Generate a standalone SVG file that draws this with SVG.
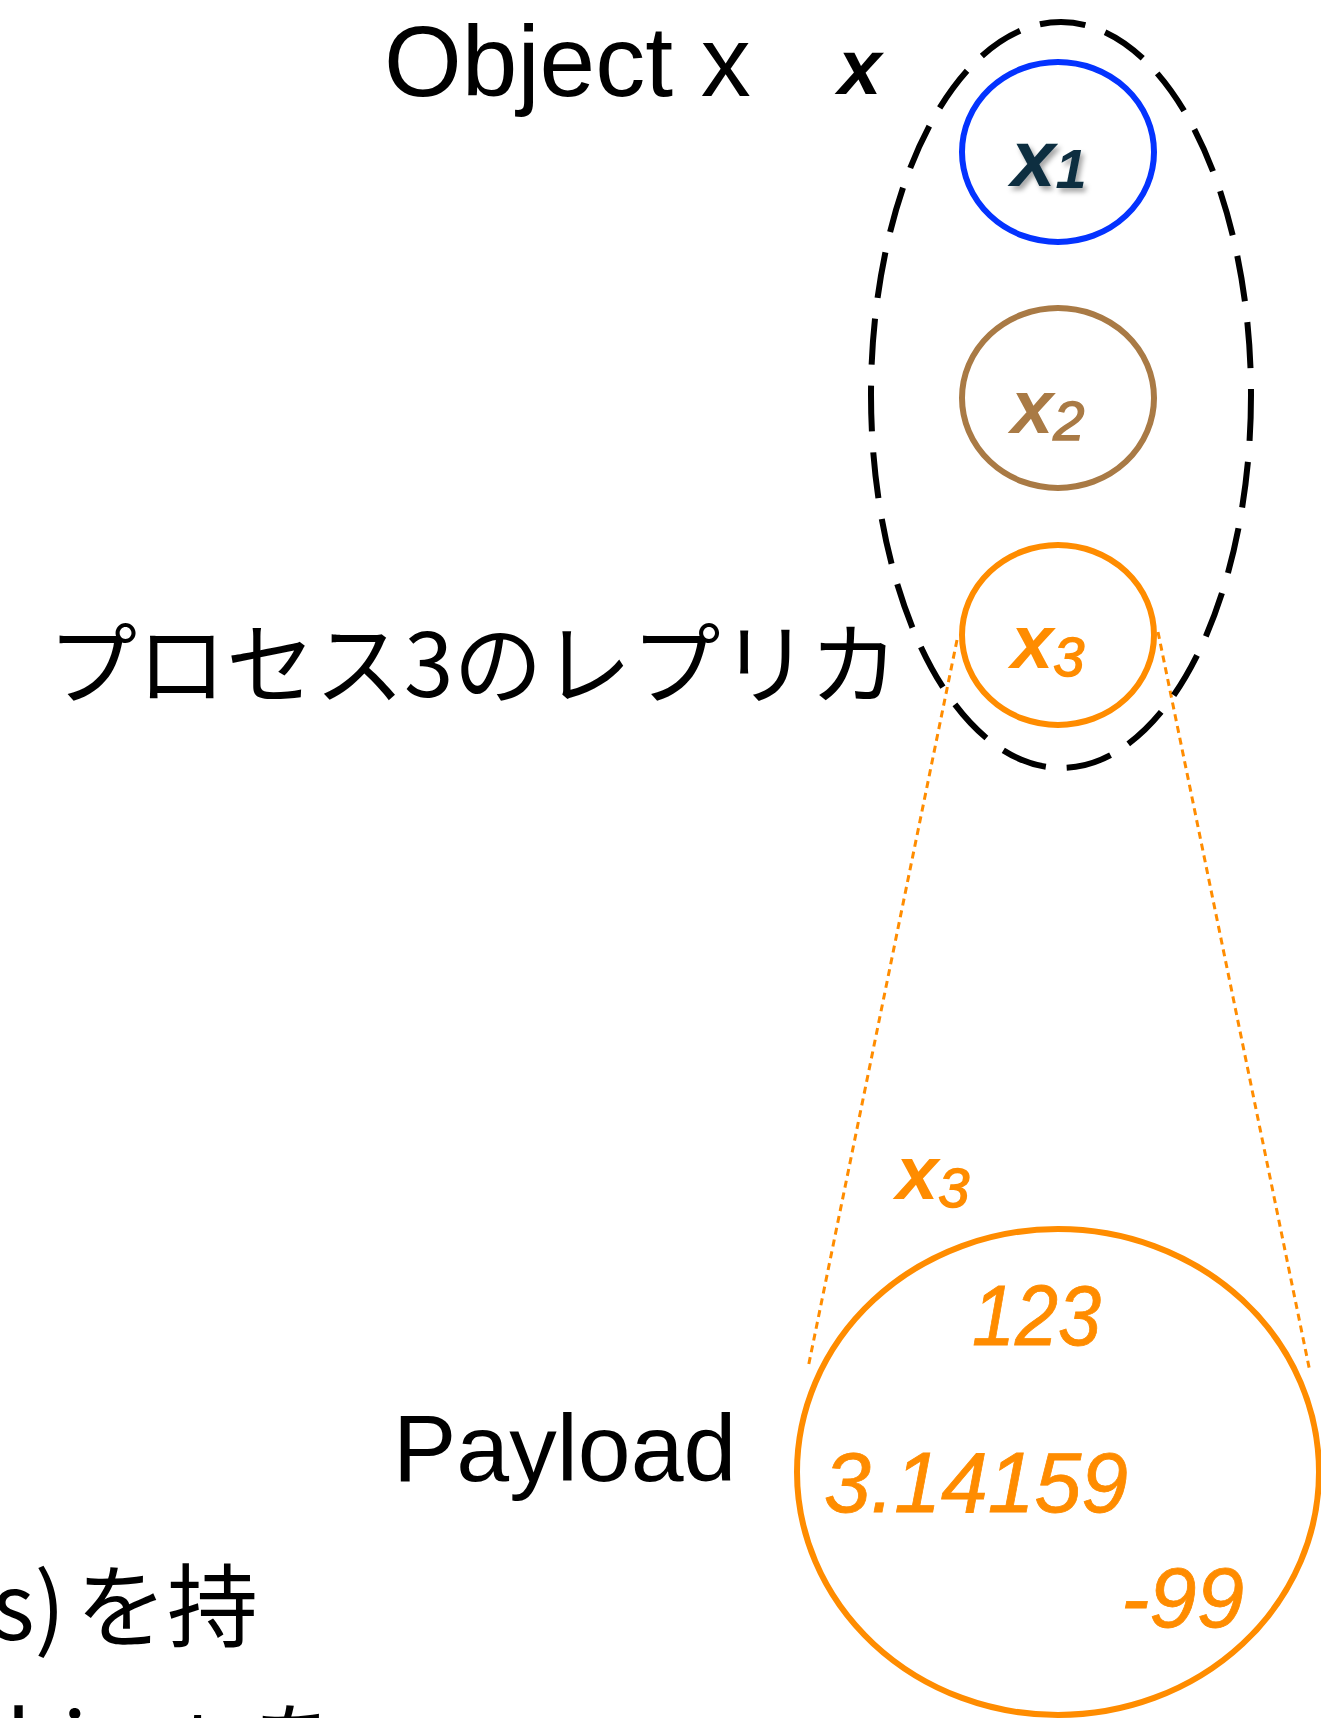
<svg xmlns="http://www.w3.org/2000/svg" width="1321" height="1718" viewBox="0 0 1321 1718">
<style>
.lbl{font-family:"Liberation Sans","Noto Sans CJK JP",sans-serif;fill:#000}
.jp{font-family:"Noto Sans CJK JP","Liberation Sans",sans-serif;fill:#000}
.var{font-family:"Liberation Sans",sans-serif;font-style:italic}
.num{font-family:"Liberation Sans",sans-serif;font-style:italic;font-size:85px;fill:#FF8C00;stroke:#FF8C00;stroke-width:0.8}
.ring{fill:none;stroke-width:6}
.dot{fill:none;stroke:#FF8C00;stroke-width:3;stroke-dasharray:7 5}
</style>
<defs>
<filter id="sh" x="-20%" y="-20%" width="150%" height="150%">
<feDropShadow dx="3" dy="4" stdDeviation="2.5" flood-color="#000" flood-opacity="0.35"/>
</filter>
</defs>
<rect width="1321" height="1718" fill="#fff"/>

<g id="connectors">
<line class="dot" x1="957" y1="640" x2="808" y2="1368"/>
<line class="dot" x1="1158" y1="632" x2="1310" y2="1372"/>
</g>

<g id="object-x">
<ellipse cx="1061" cy="395" rx="190" ry="373" fill="none" stroke="#000" stroke-width="6" stroke-dasharray="46 21"/>
<text class="lbl" x="384" y="96" font-size="100">Object x</text>
<text class="var" x="838" y="94" font-size="78" font-weight="bold" fill="#000">x</text>
</g>

<g id="x1">
<ellipse class="ring" cx="1058" cy="152" rx="96" ry="90" stroke="#0433FF"/>
<text class="var" x="1011" y="186" font-size="80" font-weight="bold" fill="#0B2E40" filter="url(#sh)">x<tspan font-size="56" dy="2">1</tspan></text>
</g>

<g id="x2">
<ellipse class="ring" cx="1058" cy="398" rx="96" ry="90" stroke="#A97A45"/>
<text class="var" x="1011" y="433" font-size="76" font-weight="bold" fill="#A97A45">x<tspan font-size="56" font-weight="normal" stroke="#A97A45" stroke-width="1.5" dy="7">2</tspan></text>
</g>

<g id="x3">
<ellipse class="ring" cx="1058" cy="635" rx="96" ry="90" stroke="#FF8C00"/>
<text class="var" x="1011" y="668" font-size="76" font-weight="bold" fill="#FF8C00">x<tspan font-size="56" font-weight="normal" stroke="#FF8C00" stroke-width="1.5" dy="8">3</tspan></text>
<text class="jp" x="48" y="697" font-size="89">プロセス3のレプリカ</text>
</g>

<g id="payload">
<ellipse class="ring" cx="1058" cy="1472" rx="261" ry="243" stroke="#FF8C00"/>
<text class="var" x="896" y="1199" font-size="76" font-weight="bold" fill="#FF8C00">x<tspan font-size="56" font-weight="normal" stroke="#FF8C00" stroke-width="1.5" dy="8">3</tspan></text>
<text class="num" x="972" y="1345" textLength="129" lengthAdjust="spacingAndGlyphs">123</text>
<text class="num" x="824" y="1512" textLength="304" lengthAdjust="spacingAndGlyphs">3.14159</text>
<text class="num" x="1121" y="1627" textLength="123" lengthAdjust="spacingAndGlyphs">-99</text>
<text class="lbl" x="393" y="1481" font-size="95">Payload</text>
</g>

<g id="caption">
<text class="jp" y="1640" font-size="91"><tspan x="-8">s)</tspan><tspan x="76">を持</tspan></text>
<text class="jp" y="1778" font-size="91"><tspan x="6">bject</tspan><tspan x="252">を</tspan></text>
</g>
</svg>
